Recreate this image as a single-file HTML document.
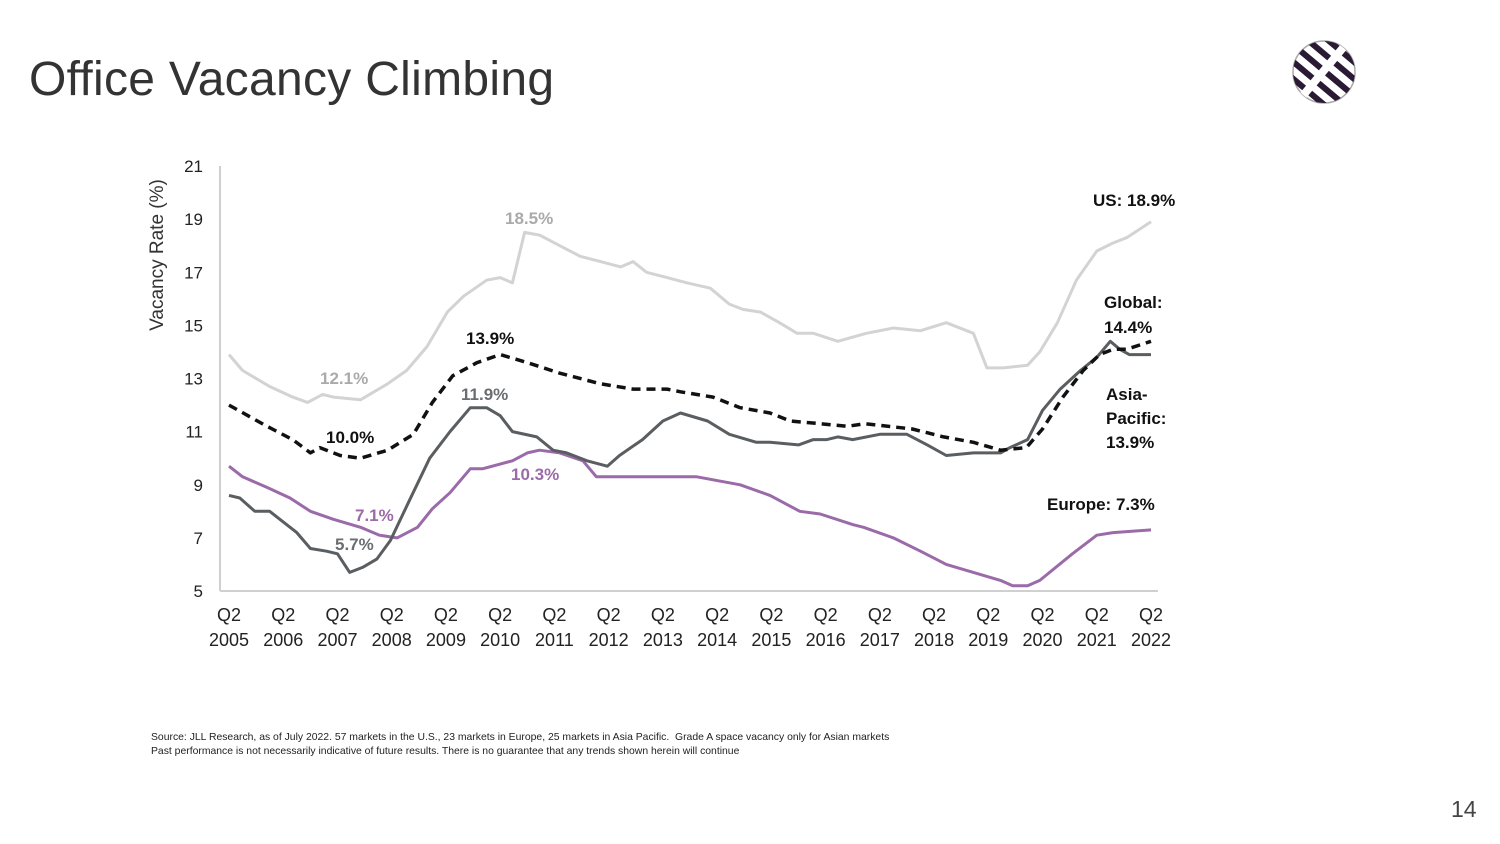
<!DOCTYPE html>
<html><head><meta charset="utf-8"><style>
body{margin:0;background:#fff;}
#wrap{position:relative;width:1500px;height:844px;overflow:hidden;font-family:"Liberation Sans",sans-serif;}
</style></head><body>
<div id="wrap">
<div style="position:absolute;left:29px;top:52px;font-size:48px;color:#333;letter-spacing:0.3px">Office Vacancy Climbing</div>
<svg style="position:absolute;left:1289px;top:38px" width="70" height="68" viewBox="0 0 70 68">
<defs><clipPath id="c"><circle cx="35" cy="34" r="31"/></clipPath></defs>
<circle cx="35" cy="34" r="31" fill="#fff" stroke="#aaa" stroke-width="1.5"/>
<g clip-path="url(#c)" transform="rotate(40 35 34)" fill="#2a1a33">
<rect x="-5" y="4" width="80" height="6"/><rect x="-5" y="17" width="80" height="6"/><rect x="-5" y="30" width="80" height="6"/><rect x="-5" y="43" width="80" height="6"/><rect x="-5" y="56" width="80" height="6"/>
<rect x="30" y="-5" width="8" height="80" fill="#fff"/>
</g></svg>
<svg id="chart" width="1500" height="844" style="position:absolute;left:0;top:0"></svg>
<div style="position:absolute;left:151px;top:731px;font-size:10.4px;color:#222;line-height:14px;white-space:nowrap">Source: JLL Research, as of July 2022. 57 markets in the U.S., 23 markets in Europe, 25 markets in Asia Pacific.&nbsp; Grade A space vacancy only for Asian markets<br>Past performance is not necessarily indicative of future results. There is no guarantee that any trends shown herein will continue</div>
<div style="position:absolute;left:1451px;top:796px;font-size:23px;color:#444">14</div>
</div>
<script>
const years=["2005","2006","2007","2008","2009","2010","2011","2012","2013","2014","2015","2016","2017","2018","2019","2020","2021","2022"];
const yTicks=[5,7,9,11,13,15,17,19,21];
const usQ=[0,1,3,4.7,5.8,6.9,7.7,9.7,11.7,13.1,14.6,16.1,17.3,19,20,20.9,21.8,22.9,24.4,25.9,27.4,28.9,29.8,30.8,32.3,33.8,35.5,36.9,37.9,39.2,40.6,41.9,43.1,44.9,47,49,51,52.9,54.9,55.9,57.1,58.9,59.8,61.1,62.5,64,65.2,66.2,68];
const usV=[13.9,13.3,12.7,12.3,12.1,12.4,12.3,12.2,12.8,13.3,14.2,15.5,16.1,16.7,16.8,16.6,18.5,18.4,18.0,17.6,17.4,17.2,17.4,17.0,16.8,16.6,16.4,15.8,15.6,15.5,15.1,14.7,14.7,14.4,14.7,14.9,14.8,15.1,14.7,13.4,13.4,13.5,14.0,15.1,16.7,17.8,18.1,18.3,18.9];
const glQ=[0,2.8,4.7,6,6.7,8.2,9.7,11.7,13.6,15,16.5,18.3,20,22,24.4,27.4,29.8,32.3,33.3,35.7,37.7,39.9,41.4,43.6,45.6,46.9,50.4,52.7,54.9,56.9,58.8,60,61.5,63,64.2,65.2,66.2,68];
const glV=[12.0,11.2,10.7,10.2,10.4,10.1,10.0,10.3,10.9,12.1,13.1,13.6,13.9,13.6,13.2,12.8,12.6,12.6,12.5,12.3,11.9,11.7,11.4,11.3,11.2,11.3,11.1,10.8,10.6,10.3,10.4,11.1,12.3,13.3,13.9,14.1,14.1,14.4];
const apQ=[0,0.8,1.9,3,4,5,6,7.2,8,8.9,9.9,10.9,11.9,13.3,14.8,16.3,17.8,19,20,20.9,22.7,23.9,24.9,26.4,27.9,28.8,30.5,32,33.3,35.3,36.9,38.9,39.9,42,43.1,44.1,44.9,46,48,50,51.5,52.9,54.9,56.9,57.6,58.9,60,61.3,62.8,64,65,65.7,66.4,68];
const apV=[8.6,8.5,8.0,8.0,7.6,7.2,6.6,6.5,6.4,5.7,5.9,6.2,6.9,8.4,10.0,11.0,11.9,11.9,11.6,11.0,10.8,10.3,10.2,9.9,9.7,10.1,10.7,11.4,11.7,11.4,10.9,10.6,10.6,10.5,10.7,10.7,10.8,10.7,10.9,10.9,10.5,10.1,10.2,10.2,10.4,10.7,11.8,12.6,13.3,13.8,14.4,14.1,13.9,13.9];
const euQ=[0,1,2.8,4.5,6,7.7,9.7,11.1,12.4,13.9,15,16.3,17.8,18.7,20.9,22,22.9,24.4,26.1,27.1,29.8,31.8,34.5,37.7,39.9,42.1,43.6,46,46.8,49,51,52.9,54.9,56.9,57.8,58.9,59.8,62.2,64,65.2,68];
const euV=[9.7,9.3,8.9,8.5,8.0,7.7,7.4,7.1,7.0,7.4,8.1,8.7,9.6,9.6,9.9,10.2,10.3,10.2,9.9,9.3,9.3,9.3,9.3,9.0,8.6,8.0,7.9,7.5,7.4,7.0,6.5,6.0,5.7,5.4,5.2,5.2,5.4,6.4,7.1,7.2,7.3];

const NS="http://www.w3.org/2000/svg";
const svg=document.getElementById('chart');
const X0=229,X1=1151,Y0=591,Y1=166;
const xs=q=>X0+(X1-X0)*q/68;
const ys=v=>Y0-(Y0-Y1)*(v-5)/16;
function mk(tag,attrs,txt){const e=document.createElementNS(NS,tag);for(const k in attrs)e.setAttribute(k,attrs[k]);if(txt!=null)e.textContent=txt;svg.appendChild(e);return e;}
let e;
e=mk('line',{x1:220,y1:166,x2:220,y2:591,stroke:'#d0d0d0','stroke-width':2});


e=mk('line',{x1:220,y1:591,x2:1158,y2:591,stroke:'#d0d0d0','stroke-width':2});


yTicks.forEach(t=>{
 e=mk('text',{x:203,y:ys(t)+6,'text-anchor':'end','font-size':17,fill:'#222'},String(t));
 
 
});
years.forEach((y,i)=>{
 const x=xs(i*4);
 e=mk('text',{x:x,y:621,'text-anchor':'middle','font-size':18,fill:'#222'},'Q2');
 
 
 e=mk('text',{x:x,y:646,'text-anchor':'middle','font-size':18,fill:'#222'},y);
 
 
});
e=mk('text',{x:0,y:0,transform:'translate(163,255) rotate(-90)','text-anchor':'middle','font-size':19,fill:'#333'},'Vacancy Rate (%)');


function line(q,v,col,w,dash,name){
 const d=q.map((a,i)=>(i?'L':'M')+xs(a).toFixed(1)+','+ys(v[i]).toFixed(1)).join('');
 const p=mk('path',{d:d,fill:'none',stroke:col,'stroke-width':w,'stroke-linejoin':'round'});
 if(dash)p.setAttribute('stroke-dasharray',dash);
 
 
}
line(usQ,usV,'#d3d3d3',3,null,'us-line');
line(euQ,euV,'#9b6aa8',3,null,'europe-line');
line(apQ,apV,'#5a5e60',3,null,'asia-pacific-line');
line(glQ,glV,'#111',3.5,'9,6','global-line');
function lab(x,y,t,col,name,anchor){
 e=mk('text',{x:x,y:y,'font-size':17,'font-weight':'bold',fill:col,'text-anchor':anchor||'start'},t);
 
 
}
lab(320,384,'12.1%','#aaa','us-low-label');
lab(505,224,'18.5%','#aaa','us-peak-label');
lab(326,443,'10.0%','#111','global-low-label');
lab(466,344,'13.9%','#111','global-peak-label');
lab(461,400,'11.9%','#6b6e70','asia-peak-label');
lab(335,550,'5.7%','#6b6e70','asia-low-label');
lab(355,521,'7.1%','#9b6aa8','europe-low-label');
lab(511,480,'10.3%','#9b6aa8','europe-peak-label');
lab(1093,206,'US: 18.9%','#111','us-end-label');
lab(1104,308,'Global:','#111','global-end-label');
lab(1104,333,'14.4%','#111','global-end-value');
lab(1106,400,'Asia-','#111','asia-end-label');
lab(1106,424,'Pacific:','#111','asia-end-label-2');
lab(1106,448,'13.9%','#111','asia-end-value');
lab(1047,510,'Europe: 7.3%','#111','europe-end-label');
</script>
</body></html>
